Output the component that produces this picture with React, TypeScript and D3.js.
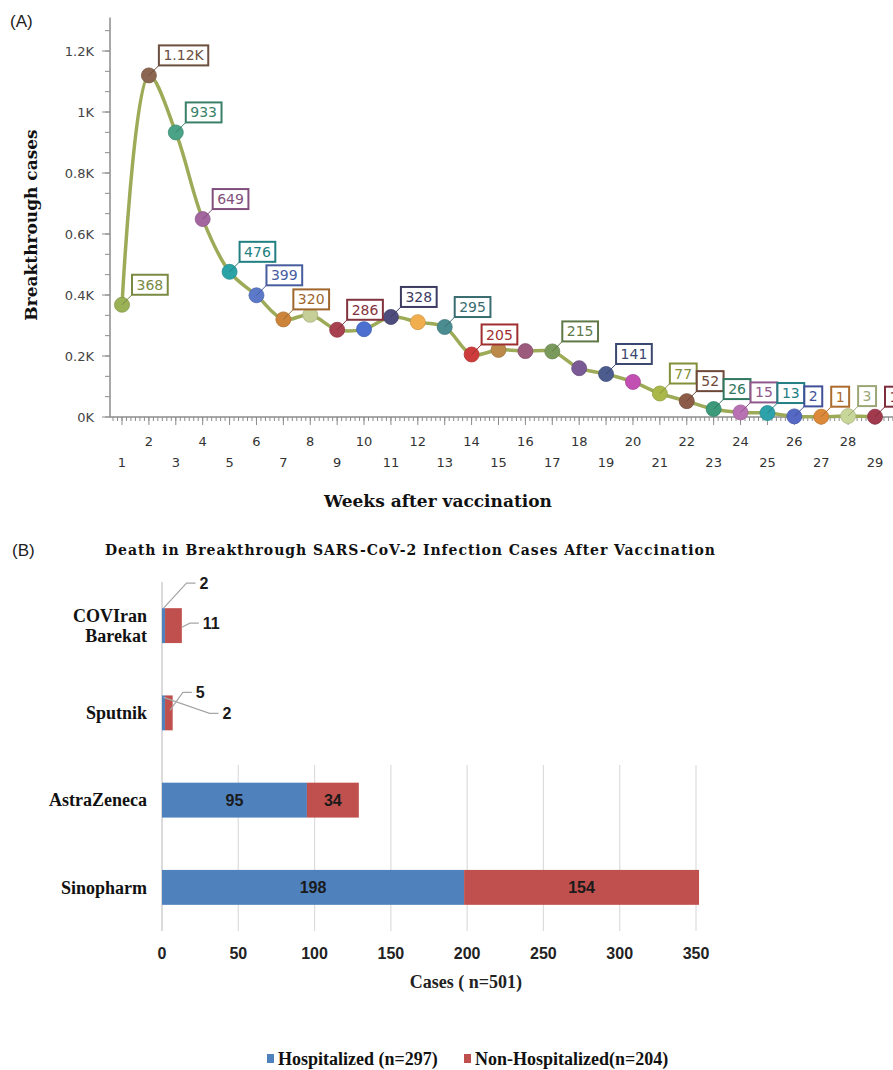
import React, { useEffect, useRef } from 'react';
import * as d3 from 'd3';

// Panel A: breakthrough cases per week after vaccination
const weeks = [1, 2, 3, 4, 5, 6, 7, 8, 9, 10, 11, 12, 13, 14, 15, 16, 17, 18, 19, 20, 21, 22, 23, 24, 25, 26, 27, 28, 29];
const breakthroughCases = [368, 1120, 933, 649, 476, 399, 320, 335, 286, 288, 328, 311, 295, 205, 220, 216, 215, 160, 141, 115, 77, 52, 26, 15, 13, 2, 1, 3, 1];
const pointLabels = ['368', '1.12K', '933', '649', '476', '399', '320', '', '286', '', '328', '', '295', '205', '', '', '215', '', '141', '', '77', '52', '26', '15', '13', '2', '1', '3', '1'];
const pointColors = [
  '#9bb156', '#8b6650', '#4aa387', '#a4669f', '#2aa3a6', '#5b78c9', '#cc843a', '#c6cf98',
  '#a84150', '#4b70d0', '#4e4c7c', '#f0ae4f', '#4a8c90', '#cc3c3c', '#bb8a4a', '#9c5a7c',
  '#7a9a5c', '#7a5a94', '#4c5c8e', '#c250b2', '#aab84a', '#8c5c48', '#3c9a7a', '#b872b4',
  '#2ea2aa', '#5468c4', '#dc8a3a', '#c8d69a', '#a03a4c',
];
const yTicksA = [0, 200, 400, 600, 800, 1000, 1200];
const yTickLabelsA = ['0K', '0.2K', '0.4K', '0.6K', '0.8K', '1K', '1.2K'];

// Panel B: deaths by vaccine
const vaccines = ['COVIran Barekat', 'Sputnik', 'AstraZeneca', 'Sinopharm'];
const hospitalized = [2, 2, 95, 198];
const nonHospitalized = [11, 5, 34, 154];
const xTicksB = [0, 50, 100, 150, 200, 250, 300, 350];

const BLUE = '#4f81bd';
const RED = '#c0504d';

export default function App() {
  const svgRef = useRef<SVGSVGElement>(null);

  useEffect(() => {
    document.body.style.margin = '0';
    if (!svgRef.current) return;
    const svg = d3.select(svgRef.current);
    svg.selectAll('*').remove();

    // ---------- (A) line chart ----------
    const x = d3.scaleLinear().domain([1, 29]).range([122, 875]);
    const y = d3.scaleLinear().domain([0, 1200]).range([417, 51]);
    const axisColor = '#8c8c8c';
    const sans = "'DejaVu Sans', Verdana, sans-serif";

    svg.append('text')
      .attr('x', 10).attr('y', 27)
      .style('font-family', "'Liberation Sans', Arial, sans-serif")
      .style('font-size', '17px')
      .attr('fill', '#222')
      .text('(A)');

    const a = svg.append('g');

    // y axis
    a.append('line')
      .attr('x1', 110).attr('x2', 110)
      .attr('y1', y(0)).attr('y2', y(1310))
      .attr('stroke', axisColor).attr('stroke-width', 1.5);
    const minorY = d3.range(0, 1300, 200 / 3);
    a.selectAll('.y-minor')
      .data(minorY)
      .enter().append('line')
      .attr('x1', 105).attr('x2', 110)
      .attr('y1', d => y(d)).attr('y2', d => y(d))
      .attr('stroke', axisColor);
    a.selectAll('.y-major')
      .data(yTicksA)
      .enter().append('line')
      .attr('x1', 102).attr('x2', 110)
      .attr('y1', d => y(d)).attr('y2', d => y(d))
      .attr('stroke', axisColor);
    a.selectAll('.y-label')
      .data(yTicksA)
      .enter().append('text')
      .attr('x', 94)
      .attr('y', d => y(d))
      .attr('dy', '0.35em')
      .attr('text-anchor', 'end')
      .style('font-family', sans)
      .style('font-size', '13px')
      .attr('fill', '#444')
      .text((d, i) => yTickLabelsA[i]);

    // x axis
    a.append('line')
      .attr('x1', 110).attr('x2', 893)
      .attr('y1', y(0)).attr('y2', y(0))
      .attr('stroke', axisColor).attr('stroke-width', 1.5);
    const minorX = d3.range(0.5, 29.7, 1 / 6).filter(v => x(v) >= 111);
    a.selectAll('.x-minor')
      .data(minorX)
      .enter().append('line')
      .attr('x1', d => x(d)).attr('x2', d => x(d))
      .attr('y1', y(0)).attr('y2', y(0) + 4)
      .attr('stroke', axisColor);
    a.selectAll('.x-major')
      .data(weeks)
      .enter().append('line')
      .attr('x1', d => x(d)).attr('x2', d => x(d))
      .attr('y1', y(0)).attr('y2', y(0) + 8)
      .attr('stroke', axisColor);
    a.selectAll('.x-label')
      .data(weeks)
      .enter().append('text')
      .attr('x', d => x(d))
      .attr('y', d => (d % 2 === 0 ? 446 : 467))
      .attr('text-anchor', 'middle')
      .style('font-family', sans)
      .style('font-size', '13px')
      .attr('fill', '#333')
      .text(d => d);

    // axis titles
    const serifBold = "'DejaVu Serif', serif";
    a.append('text')
      .attr('x', 438).attr('y', 507)
      .attr('text-anchor', 'middle')
      .style('font-family', serifBold)
      .style('font-weight', 'bold')
      .style('font-size', '17px')
      .attr('fill', '#111')
      .text('Weeks after vaccination');
    a.append('text')
      .attr('transform', 'translate(37, 225) rotate(-90)')
      .attr('text-anchor', 'middle')
      .style('font-family', serifBold)
      .style('font-weight', 'bold')
      .style('font-size', '17px')
      .attr('fill', '#111')
      .text('Breakthrough cases');

    // smoothed line
    const line = d3.line<number>()
      .x((d, i) => x(weeks[i]))
      .y(d => y(d))
      .curve(d3.curveCatmullRom.alpha(0.5));
    a.append('path')
      .datum(breakthroughCases)
      .attr('d', line)
      .attr('fill', 'none')
      .attr('stroke', '#9dab58')
      .attr('stroke-width', 3.5);

    // markers
    a.selectAll('.pt')
      .data(breakthroughCases)
      .enter().append('circle')
      .attr('cx', (d, i) => x(weeks[i]))
      .attr('cy', d => y(d))
      .attr('r', 7.5)
      .attr('fill', (d, i) => pointColors[i])
      .attr('stroke', (d, i) => d3.color(pointColors[i])?.darker(0.4)?.toString() || pointColors[i])
      .attr('stroke-width', 0.8);

    // callout labels
    breakthroughCases.forEach((v, i) => {
      const label = pointLabels[i];
      if (!label) return;
      const px = x(weeks[i]);
      const py = y(v);
      const border = d3.color(pointColors[i])?.darker(0.7)?.toString() || pointColors[i];
      const g = a.append('g');
      g.append('line')
        .attr('x1', px).attr('y1', py)
        .attr('x2', px + 10).attr('y2', py - 10)
        .attr('stroke', border).attr('stroke-width', 1);
      const t = g.append('text')
        .attr('x', px + 14.5)
        .attr('y', py - 20)
        .attr('dy', '0.36em')
        .style('font-family', sans)
        .style('font-size', '14px')
        .attr('fill', border)
        .text(label);
      const w = (t.node() as SVGTextElement).getComputedTextLength();
      g.insert('rect', 'text')
        .attr('x', px + 10).attr('y', py - 30)
        .attr('width', w + 9).attr('height', 20)
        .attr('fill', '#fff')
        .attr('stroke', border)
        .attr('stroke-width', 2);
    });

    // ---------- (B) stacked bars ----------
    svg.append('text')
      .attr('x', 12).attr('y', 556)
      .style('font-family', "'Liberation Sans', Arial, sans-serif")
      .style('font-size', '17px')
      .attr('fill', '#222')
      .text('(B)');

    const xb = d3.scaleLinear().domain([0, 350]).range([162, 696]);
    const yb = d3.scaleBand().domain(vaccines).range([582, 931]).paddingInner(0.6).paddingOuter(0.3);
    const serif = "'Liberation Serif', 'Times New Roman', serif";
    const narrow = "'Liberation Sans Narrow', 'Liberation Sans', Arial, sans-serif";
    const b = svg.append('g');

    b.append('text')
      .attr('x', 105).attr('y', 555)
      .attr('textLength', 610)
      .attr('lengthAdjust', 'spacing')
      .style('font-family', serifBold)
      .style('font-weight', 'bold')
      .style('font-size', '14px')
      .attr('fill', '#111')
      .text('Death in Breakthrough SARS-CoV-2 Infection Cases After Vaccination');

    // grid + axis
    b.selectAll('.grid')
      .data(xTicksB.slice(1))
      .enter().append('line')
      .attr('x1', d => xb(d)).attr('x2', d => xb(d))
      .attr('y1', 765).attr('y2', 931)
      .attr('stroke', '#dcdcdc').attr('stroke-width', 1.2);
    b.append('line')
      .attr('x1', xb(0)).attr('x2', xb(0))
      .attr('y1', 582).attr('y2', 931)
      .attr('stroke', '#cfcfcf').attr('stroke-width', 1.5);

    b.selectAll('.xb-label')
      .data(xTicksB)
      .enter().append('text')
      .attr('x', d => xb(d))
      .attr('y', 959)
      .attr('text-anchor', 'middle')
      .style('font-family', narrow)
      .style('font-weight', 'bold')
      .style('font-size', '16px')
      .attr('fill', '#222')
      .text(d => d);

    b.append('text')
      .attr('x', 466).attr('y', 988)
      .attr('text-anchor', 'middle')
      .style('font-family', serif)
      .style('font-weight', 'bold')
      .style('font-size', '18px')
      .attr('fill', '#222')
      .text('Cases ( n=501)');

    // category labels
    vaccines.forEach(v => {
      const cy = (yb(v) || 0) + yb.bandwidth() / 2;
      const words = v === 'COVIran Barekat' ? ['COVIran', 'Barekat'] : [v];
      const t = b.append('text')
        .attr('text-anchor', 'end')
        .style('font-family', serif)
        .style('font-weight', 'bold')
        .style('font-size', '18px')
        .attr('fill', '#111');
      words.forEach((w, k) => {
        t.append('tspan')
          .attr('x', 147)
          .attr('y', cy + (k - (words.length - 1) / 2) * 20)
          .attr('dy', '0.35em')
          .text(w);
      });
    });

    // bars
    b.selectAll('.bar-h')
      .data(vaccines)
      .enter().append('rect')
      .attr('x', xb(0))
      .attr('y', d => yb(d) || 0)
      .attr('width', (d, i) => xb(hospitalized[i]) - xb(0))
      .attr('height', yb.bandwidth())
      .attr('fill', BLUE);
    b.selectAll('.bar-n')
      .data(vaccines)
      .enter().append('rect')
      .attr('x', (d, i) => xb(hospitalized[i]))
      .attr('y', d => yb(d) || 0)
      .attr('width', (d, i) => xb(hospitalized[i] + nonHospitalized[i]) - xb(hospitalized[i]))
      .attr('height', yb.bandwidth())
      .attr('fill', RED);

    const labelStyle = (sel: any) => sel
      .style('font-family', narrow)
      .style('font-weight', 'bold')
      .style('font-size', '16px')
      .attr('fill', '#1a1a1a');

    // in-bar labels for the wide bars
    vaccines.forEach((v, i) => {
      const cy = (yb(v) || 0) + yb.bandwidth() / 2;
      if (hospitalized[i] > 20) {
        b.append('text')
          .attr('x', (xb(0) + xb(hospitalized[i])) / 2)
          .attr('y', cy).attr('dy', '0.35em')
          .attr('text-anchor', 'middle')
          .call(labelStyle)
          .text(hospitalized[i]);
      }
      if (nonHospitalized[i] > 20) {
        b.append('text')
          .attr('x', (xb(hospitalized[i]) + xb(hospitalized[i] + nonHospitalized[i])) / 2)
          .attr('y', cy).attr('dy', '0.35em')
          .attr('text-anchor', 'middle')
          .call(labelStyle)
          .text(nonHospitalized[i]);
      }
    });

    // callouts for the tiny bars
    const top0 = yb('COVIran Barekat') || 0;
    const top1 = yb('Sputnik') || 0;
    const callouts = [
      { value: hospitalized[0], sx: xb(hospitalized[0] / 2), sy: top0, ex: xb(hospitalized[0] / 2) + 23, ey: top0 - 25 },
      { value: nonHospitalized[0], sx: xb(hospitalized[0] + nonHospitalized[0]), sy: top0 + 19, ex: xb(hospitalized[0] + nonHospitalized[0]) + 8, ey: top0 + 15 },
      { value: nonHospitalized[1], sx: xb(hospitalized[1] + nonHospitalized[1] / 2) + 1, sy: top1 + 15, ex: xb(hospitalized[1] + nonHospitalized[1] / 2) + 14, ey: top1 - 3 },
      { value: hospitalized[1], sx: xb(hospitalized[1] / 2), sy: top1 + 2, ex: xb(hospitalized[1] / 2) + 46, ey: top1 + 18 },
    ];
    callouts.forEach(c => {
      b.append('polyline')
        .attr('points', `${c.sx},${c.sy} ${c.ex},${c.ey} ${c.ex + 9},${c.ey}`)
        .attr('fill', 'none')
        .attr('stroke', '#a6a6a6')
        .attr('stroke-width', 1.2);
      b.append('text')
        .attr('x', c.ex + 13)
        .attr('y', c.ey).attr('dy', '0.35em')
        .call(labelStyle)
        .text(c.value);
    });

    // legend
    const legend = b.append('g');
    const items = [
      { label: 'Hospitalized (n=297)', color: BLUE, x: 267 },
      { label: 'Non-Hospitalized(n=204)', color: RED, x: 464 },
    ];
    items.forEach(it => {
      legend.append('rect')
        .attr('x', it.x).attr('y', 1054)
        .attr('width', 7).attr('height', 9)
        .attr('fill', it.color);
      legend.append('text')
        .attr('x', it.x + 11).attr('y', 1059)
        .attr('dy', '0.35em')
        .style('font-family', serif)
        .style('font-weight', 'bold')
        .style('font-size', '18px')
        .attr('fill', '#111')
        .text(it.label);
    });
  }, []);

  return (
    <div style={{ position: 'absolute', left: 0, top: 0 }}>
      <svg ref={svgRef} width={893} height={1070} viewBox="0 0 893 1070" style={{ display: 'block', background: '#fff' }} />
    </div>
  );
}
